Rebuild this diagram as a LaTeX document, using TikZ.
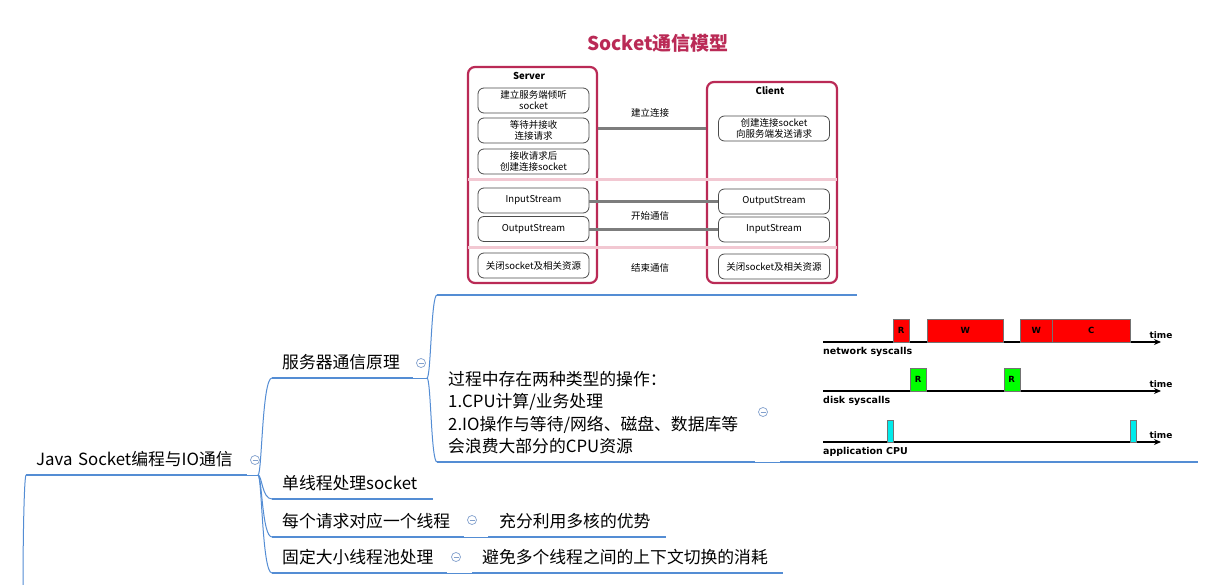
\documentclass[tikz,border=0pt]{standalone}
\usepackage{fontspec}
\newfontfamily\cjk{Noto Sans CJK SC}
\newfontfamily\plotfont{DejaVu Sans}
\usetikzlibrary{arrows.meta}

\definecolor{mmblue}{RGB}{84,141,212}
\definecolor{foldc}{RGB}{130,160,205}
\definecolor{sockred}{RGB}{186,42,86}
\definecolor{bandpink}{RGB}{242,200,210}
\definecolor{wiregray}{RGB}{125,125,125}
\definecolor{cpucyan}{RGB}{0,235,235}

\begin{document}
\begin{tikzpicture}[x=1pt, y=-1pt,
    >={Stealth[length=7pt,width=6pt]},
    topic/.style={anchor=south west, inner xsep=10pt, inner ysep=5.5pt,
                  text height=13pt, text depth=4pt, align=left,
                  font=\cjk\fontsize{16.8}{22.5}\selectfont},
    note/.style={anchor=south west, inner xsep=11pt, inner ysep=7.5pt,
                 align=left, font=\cjk\fontsize{16.8}{22.5}\selectfont},
    imgtopic/.style={anchor=south west, inner sep=0pt},
    uline/.style={mmblue, line width=2.6pt},
    branch/.style={mmblue, line width=1pt},
    fold/.style={circle, draw=foldc, line width=0.7pt, minimum size=9pt,
                 inner sep=0pt, fill=white,
                 path picture={\draw[foldc, line width=0.7pt]
                   ([xshift=-2.5pt]path picture bounding box.center) --
                   ([xshift=2.5pt]path picture bounding box.center);}},
    sockbox/.style={draw=sockred, line width=2.2pt, rounded corners=7pt,
                    inner sep=0pt},
    stepbox/.style={draw=black!70, line width=0.8pt, rounded corners=6pt,
                    minimum width=111pt, minimum height=25pt, inner sep=1pt,
                    align=center, fill=white,
                    font=\cjk\fontsize{9.5}{11}\selectfont},
    wire/.style={wiregray, line width=2.4pt},
    wirelab/.style={font=\cjk\fontsize{9.5}{11}\selectfont},
    band/.style={bandpink, line width=3pt},
    evt/.style={anchor=south west, draw=black!55, line width=0.4pt,
                minimum height=23pt, inner sep=0pt,
                font=\plotfont\bfseries\fontsize{8.5}{10}\selectfont},
    axis/.style={->, line width=1.6pt},
    rowlab/.style={anchor=north west, inner sep=1pt,
                   font=\plotfont\bfseries\fontsize{9.5}{11}\selectfont}]
\useasboundingbox[fill=white] (0,0) rectangle (1221,585);

% mind map topics
\node[topic, text width=201pt] (root) at (26,475) {Java Socket编程与IO通信};
\node[topic, text width=121pt] (srv) at (272,378) {服务器通信原理};
\node[topic, text width=141pt] (single) at (272,499) {单线程处理socket};
\node[topic, text width=172pt] (thread) at (272,537) {每个请求对应一个线程};
\node[topic, text width=155pt] (pool) at (272,573) {固定大小线程池处理};
\node[topic, text width=156pt, inner xsep=11pt] (multicore) at (488,537) {充分利用多核的优势};
\node[topic, text width=291pt] (ctx) at (472,573) {避免多个线程之间的上下文切换的消耗};
\node[note, text width=296pt] (ops) at (437,462)
  {过程中存在两种类型的操作：\\
   1.CPU计算/业务处理\\
   2.IO操作与等待/网络、磁盘、数据库等\\
   会浪费大部分的CPU资源};
\node[imgtopic, minimum width=420pt, minimum height=270pt] (sockimg) at (437,295) {};
\node[imgtopic, minimum width=418pt, minimum height=150pt] (cpuimg) at (780,462) {};

\coordinate (rootj) at (258,475);
\coordinate (srvj) at (427,378);
\coordinate (uproot) at (23,585);

% connectors
\draw[branch] (root.south east) -- (rootj);
\foreach \c in {srv,single,thread,pool}
  \draw[branch] (rootj) .. controls +(4,0) and +(-10,0) .. (\c.south west);
\draw[branch] (root.south west) .. controls +(-2,3) and +(0,-40) .. (uproot);
\draw[branch] (srv.south east) -- (srvj);
\draw[branch] (srvj) .. controls +(4,0) and +(-6,0) .. (sockimg.south west);
\draw[branch] (srvj) .. controls +(4,0) and +(-6,0) .. (ops.south west);
\draw[branch] (ops.south east) -- (cpuimg.south west);
\draw[branch] (thread.south east) -- (multicore.south west);
\draw[branch] (pool.south east) -- (ctx.south west);

\foreach \n in {root,srv,single,thread,pool,multicore,ctx,ops,sockimg,cpuimg}
  \draw[uline] (\n.south west) -- (\n.south east);

\node[fold] (froot) at (255,460) {};
\node[fold] (fsrv) at (421,363) {};
\node[fold] (fops) at (763,412) {};
\node[fold] (fthread) at (472,520) {};
\node[fold] (fpool) at (456,557) {};

% Socket model picture
\node[font=\cjk\bfseries\fontsize{19}{22}\selectfont, text=sockred] (title) at (658,43) {Socket通信模型};
\node[sockbox, minimum width=129pt, minimum height=216pt] (server) at (532.5,175) {};
\node[sockbox, minimum width=130pt, minimum height=201pt] (client) at (772,182.5) {};
\draw[band] (468,180) -- (837,180);
\draw[band] (468,248) -- (837,248);
\node[font=\cjk\bfseries\fontsize{9.5}{11}\selectfont] (slab) at (529,76) {Server};
\node[font=\cjk\bfseries\fontsize{9.5}{11}\selectfont] (clab) at (770,91) {Client};

\node[stepbox] (s1) at (533.5,100.5) {建立服务端倾听\\socket};
\node[stepbox] (s2) at (533.5,130.5) {等待并接收\\连接请求};
\node[stepbox] (s3) at (533.5,161.5) {接收请求后\\创建连接socket};
\node[stepbox] (s4) at (533.5,200.5) {InputStream};
\node[stepbox] (s5) at (533.5,229) {OutputStream};
\node[stepbox] (s6) at (533.5,265.5) {关闭socket及相关资源};
\node[stepbox] (c1) at (774,128.5) {创建连接socket\\向服务端发送请求};
\node[stepbox] (c5) at (774,201.5) {OutputStream};
\node[stepbox] (c6) at (774,229.5) {InputStream};
\node[stepbox] (c7) at (774,266.5) {关闭socket及相关资源};

\draw[wire] (c1 -| server.east) -- (c1 -| client.west);
\draw[wire] (c5 -| s4.east) -- (c5.west);
\draw[wire] (c6 -| s5.east) -- (c6.west);
\node[wirelab] (lconn) at (650,113) {建立连接};
\node[wirelab] (lcomm) at (650,216) {开始通信};
\node[wirelab] (lend) at (650,268) {结束通信};

% syscall timeline picture
\foreach \y/\lab in {342/network syscalls,391/disk syscalls,442/application CPU} {
  \draw[axis] (823,\y) -- (1161,\y);
  \node[font=\plotfont\bfseries\fontsize{9}{10}\selectfont, anchor=base]
    (time\y) at (1161,\y-4) {time};
  \node[rowlab] (row\y) at (822,\y+4) {\lab};
}
\node[evt, fill=red, minimum width=16pt] (nr) at (893,342) {R};
\node[evt, fill=red, minimum width=76pt] (nw1) at (927,342) {W};
\node[evt, fill=red, minimum width=32pt] (nw2) at (1020,342) {W};
\node[evt, fill=red, minimum width=78pt] (nc) at (1052,342) {C};
\node[evt, fill=green, minimum width=16pt] (dr1) at (910,391) {R};
\node[evt, fill=green, minimum width=16pt] (dr2) at (1003.5,391) {R};
\node[evt, fill=cpucyan, minimum width=6pt, minimum height=22pt] (cpu1) at (887,442) {};
\node[evt, fill=cpucyan, minimum width=6pt, minimum height=22pt] (cpu2) at (1130,442) {};
\end{tikzpicture}
\end{document}
